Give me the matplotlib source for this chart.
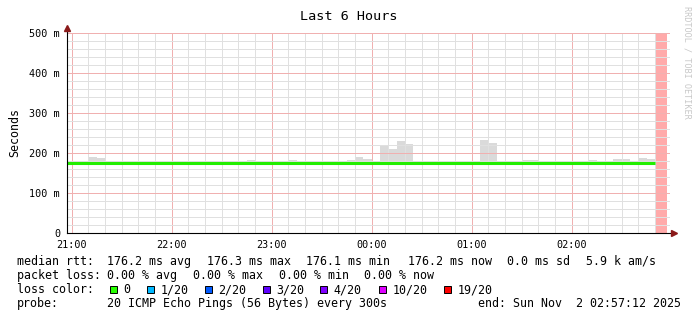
import numpy as np
import matplotlib
matplotlib.use('Agg')
import matplotlib.pyplot as plt
from matplotlib.patches import Rectangle

W, H = 697, 321
MONO = 'DejaVu Sans Mono'

# 5 minute bins, minutes relative to 21:00 (20:55 .. 02:55)
bin_start = np.arange(-5, 360, 5)

# max ping of each bin (ms), read from the smoke
smoke_max = [177,
             177, 177, 191, 188, 177, 177, 177, 177, 177, 177, 177, 177,
             177, 177, 177, 177, 177, 177, 177, 177, 177, 182, 180, 180,
             180, 178, 182, 181, 178, 178, 178, 178, 178, 182, 190, 186,
             178, 219, 210, 230, 222, 177, 177, 177, 177, 177, 177, 177,
             177, 233, 224, 177, 177, 177, 183, 182, 177, 177, 177, 177,
             177, 177, 182, 181, 177, 185, 185, 177, 187, 186, np.nan, np.nan]
smoke_min = 175.8
median_rtt = [176.2] * 71 + [np.nan, np.nan]

start_t = -2.8    # 20:57:12
end_t = 357.2     # 02:57:12

hour_ticks = [0, 60, 120, 180, 240, 300]
hour_labels = ['21:00', '22:00', '23:00', '00:00', '01:00', '02:00']
y_ticks = [0, 100, 200, 300, 400, 500]
y_labels = ['0', '100 m', '200 m', '300 m', '400 m', '500 m']

loss_labels = ['0', '1/20', '2/20', '3/20', '4/20', '10/20', '19/20']
loss_colors = ['#26ff00', '#00b8ff', '#0059ff', '#5e00ff', '#7e00ff', '#dd00ff', '#ff0000']


def px(x, y):
    return x / W, 1 - y / H


fig = plt.figure(figsize=(W / 100, H / 100), dpi=100)
fig.patch.set_facecolor('white')
ax = fig.add_axes([67 / W, 1 - 233 / H, 603 / W, 200 / H])
ax.set_xlim(start_t, start_t + 603 * 0.6)
ax.set_ylim(0, 500)

smoke_max = np.array(smoke_max, dtype=float)
median_rtt = np.array(median_rtt, dtype=float)

# smoke
ax.bar(bin_start, smoke_max - smoke_min, bottom=smoke_min, width=5, align='edge',
       color='#dadada', linewidth=0, zorder=1)

# unknown data
for t, m in zip(bin_start, median_rtt):
    if np.isnan(m):
        ax.axvspan(t, min(t + 5, end_t), color='#ffaaaa', linewidth=0, zorder=1)

# median line
xs = np.append(bin_start, bin_start[-1] + 5)
ys = np.append(median_rtt, median_rtt[-1])
ax.plot(xs, ys, drawstyle='steps-post', color='#22ee00', lw=2.2, zorder=4,
        solid_capstyle='butt')

# grid: 10 min / 20 ms grey, 1 h / 100 ms red
ax.set_xticks(hour_ticks)
ax.set_xticklabels(hour_labels)
ax.set_xticks([m for m in range(10, 360, 10) if m % 60], minor=True)
ax.set_yticks(y_ticks)
ax.set_yticklabels(y_labels)
ax.set_yticks([v for v in range(20, 500, 20) if v % 100], minor=True)
ax.grid(which='minor', color='#e0e0e0', lw=0.72, zorder=2)
ax.grid(which='major', color='#f0b0b0', lw=0.72, zorder=2.5)
ax.set_axisbelow(False)
ax.tick_params(which='both', length=0)
ax.tick_params(axis='x', pad=5.0, labelsize=7.3)
ax.tick_params(axis='y', pad=5.0, labelsize=7.3)
for lab in ax.get_xticklabels() + ax.get_yticklabels():
    lab.set_family(MONO)
for s in ax.spines.values():
    s.set_visible(False)

# axis lines with arrows
ax.plot([0, 0], [0, 1.02], color='black', lw=0.8, transform=ax.transAxes,
        clip_on=False, zorder=5)
ax.plot([0, 1.004], [0, 0], color='black', lw=0.8, transform=ax.transAxes,
        clip_on=False, zorder=5)
ax.plot([0], [1.025], marker='^', ms=4, color='#8b1a1a', transform=ax.transAxes,
        clip_on=False, zorder=6)
ax.plot([1.007], [0], marker='>', ms=4, color='#8b1a1a', transform=ax.transAxes,
        clip_on=False, zorder=6)

# texts
fig.text(*px(349, 20), 'Last 6 Hours', ha='center', va='baseline',
         family=MONO, fontsize=9.7)
fig.text(*px(14.5, 133), 'Seconds', rotation=90, ha='center', va='center',
         family=MONO, fontsize=8.4)
fig.text(*px(687.5, 6), 'RRDTOOL / TOBI OETIKER', rotation=-90, ha='center', va='top',
         family=MONO, fontsize=6.1, color='#c8c8c8')

legend_rows = [
    (265, [(16.7, 'median rtt:'), (107.3, '176.2 ms avg'), (207.3, '176.3 ms max'),
           (306, '176.1 ms min'), (407.7, '176.2 ms now'), (507.3, '0.0 ms sd'),
           (586, '5.9 k am/s')]),
    (279, [(16.7, 'packet loss:'), (107.3, '0.00 % avg'), (193.3, '0.00 % max'),
           (279.3, '0.00 % min'), (363.5, '0.00 % now')]),
    (293.3, [(16.7, 'loss color:')]),
    (307.3, [(16.7, 'probe:'), (107.3, '20 ICMP Echo Pings (56 Bytes) every 300s'),
             (478.3, 'end: Sun Nov  2 02:57:12 2025')]),
]
for base, items in legend_rows:
    for x, s in items:
        fig.text(*px(x, base), s, ha='left', va='baseline', family=MONO, fontsize=8.4)

box_x = [109.5, 146.8, 204.8, 262.8, 320.2, 379.2, 443.8]
for bx, lab, col in zip(box_x, loss_labels, loss_colors):
    fx, fy = px(bx, 293.3)
    fig.add_artist(Rectangle((fx, fy), 7 / W, 7 / H, facecolor=col, edgecolor='black',
                             lw=0.7, transform=fig.transFigure))
    fig.text(*px(bx + 13.5, 293.3), lab, ha='left', va='baseline', family=MONO,
             fontsize=8.4)

fig.savefig('out.png', dpi=100)
